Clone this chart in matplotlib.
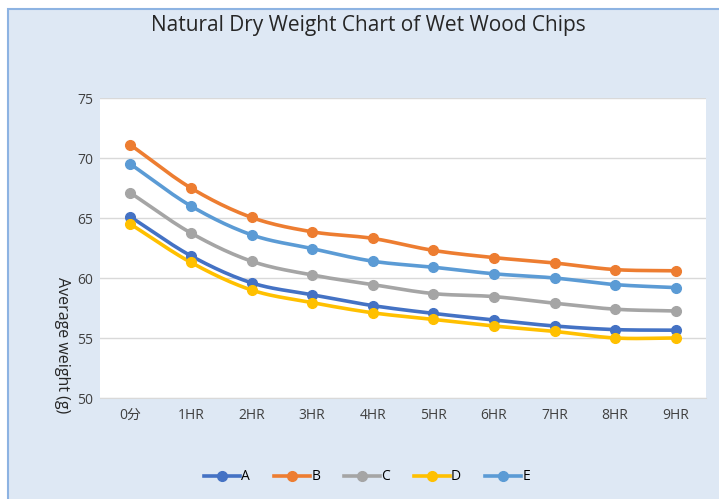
import numpy as np
import matplotlib
matplotlib.use("Agg")
import matplotlib.pyplot as plt
from matplotlib.patches import Rectangle
from matplotlib.lines import Line2D

plt.rcParams['font.family'] = ['Open Sans', 'Noto Sans CJK SC', 'DejaVu Sans']

categories = ["0分", "1HR", "2HR", "3HR", "4HR", "5HR", "6HR", "7HR", "8HR", "9HR"]
series_names = ["A", "B", "C", "D", "E"]
A = [65.1, 61.85, 59.6, 58.6, 57.7, 57.05, 56.5, 56.0, 55.7, 55.65]
B = [71.1, 67.5, 65.05, 63.85, 63.3, 62.3, 61.7, 61.25, 60.7, 60.6]
C = [67.1, 63.75, 61.4, 60.25, 59.45, 58.7, 58.45, 57.9, 57.4, 57.25]
D = [64.5, 61.3, 59.0, 57.95, 57.1, 56.55, 56.0, 55.55, 55.0, 55.0]
E = [69.5, 66.0, 63.6, 62.45, 61.4, 60.9, 60.35, 60.0, 59.45, 59.2]
colors = ["#4472C4", "#ED7D31", "#A5A5A5", "#FFC000", "#5B9BD5"]


def smooth(x, y, n=20):
    # catmull-rom curve through the points, only for drawing the line
    x = np.asarray(x, float)
    y = np.asarray(y, float)
    px = np.concatenate(([2 * x[0] - x[1]], x, [2 * x[-1] - x[-2]]))
    py = np.concatenate(([2 * y[0] - y[1]], y, [2 * y[-1] - y[-2]]))
    t = np.linspace(0, 1, n, endpoint=False)
    xs, ys = [], []
    for i in range(1, len(px) - 2):
        for p, out in ((px, xs), (py, ys)):
            p0, p1, p2, p3 = p[i - 1], p[i], p[i + 1], p[i + 2]
            out.extend(0.5 * (2 * p1 + (-p0 + p2) * t + (2 * p0 - 5 * p1 + 4 * p2 - p3) * t**2
                              + (-p0 + 3 * p1 - 3 * p2 + p3) * t**3))
    xs.append(x[-1])
    ys.append(y[-1])
    return np.array(xs), np.array(ys)


W, H = 719, 499
fig = plt.figure(figsize=(W / 100, H / 100), dpi=100, facecolor="white")
fig.patches.append(Rectangle((8 / W, -0.01), 1, 1.01 - 9 / H, transform=fig.transFigure,
                             facecolor="#DEE8F4", edgecolor="#8DB3E2", linewidth=1.5,
                             zorder=-10))

ax = fig.add_axes([100 / W, 1 - 398 / H, 606 / W, 300 / H])
ax.set_facecolor("white")
x = np.arange(len(categories))
for name, vals, c in zip(series_names, [A, B, C, D, E], colors):
    sx, sy = smooth(x, vals)
    ax.plot(sx, sy, color=c, lw=2.6, solid_capstyle="round", zorder=3)
    ax.plot(x, vals, "o", color=c, ms=7, zorder=4)

ax.set_xlim(-0.5, len(categories) - 0.5)
ax.set_ylim(50, 75)
ax.set_yticks([50, 55, 60, 65, 70, 75])
ax.set_xticks(x)
ax.set_xticklabels(categories)
ax.grid(axis="y", color="#D9D9D9", lw=1)
ax.set_axisbelow(True)
for s in ["top", "right", "left"]:
    ax.spines[s].set_visible(False)
ax.spines["bottom"].set_color("#D9D9D9")
ax.tick_params(length=0, labelsize=10, labelcolor="#404040")
ax.tick_params(axis="x", pad=7)
ax.tick_params(axis="y", pad=5)

fig.text(368 / W, 1 - 26 / H, "Natural Dry Weight Chart of Wet Wood Chips",
         ha="center", va="center", fontsize=15, color="#262626")
fig.text(62 / W, 1 - 345 / H, "Average weight (g)", rotation=270,
         ha="center", va="center", fontsize=11.5, color="#262626")

handles = [Line2D([0], [0], color=c, lw=2.6, marker="o", ms=7) for c in colors]
fig.legend(handles, series_names, loc="center", bbox_to_anchor=(367 / W, 1 - 477 / H),
           ncol=5, frameon=False, fontsize=10, handlelength=2.6, handletextpad=0.1,
           columnspacing=1.7)

fig.savefig("out.png", dpi=100, facecolor=fig.get_facecolor())
